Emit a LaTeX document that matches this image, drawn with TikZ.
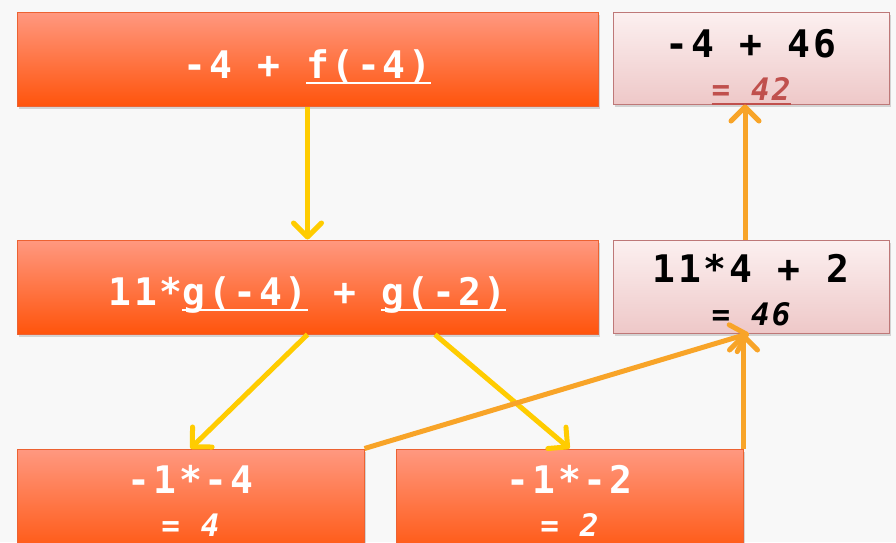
\documentclass[tikz,border=0pt]{standalone}
\usepackage{fontspec}
\newfontfamily\eqfont[LetterSpace=7]{DejaVu Sans Mono}
\usetikzlibrary{arrows.meta,shadows}

\definecolor{tileTop}{RGB}{255,152,128}
\definecolor{tileBot}{RGB}{255,84,12}
\definecolor{tileLine}{RGB}{236,98,50}
\definecolor{noteTop}{RGB}{252,240,240}
\definecolor{noteBot}{RGB}{238,200,200}
\definecolor{noteLine}{RGB}{190,120,120}
\definecolor{callArrow}{RGB}{255,204,0}
\definecolor{backArrow}{RGB}{248,164,40}
\definecolor{resultRed}{RGB}{192,80,77}
\definecolor{paper}{RGB}{248,248,248}

% underline with a thick rule, as on the slide
\newcommand{\callul}[1]{\setbox0\hbox{#1}\rlap{\rule[-6pt]{\wd0}{2.5pt}}\box0\relax}
\newcommand{\valul}[1]{\setbox0\hbox{#1}\rlap{\raisebox{-5pt}[0pt][0pt]{\rule{\wd0}{2.5pt}}}\box0\relax}
\newcommand{\valtxt}{\fontsize{31}{43}\selectfont\itshape}
\newcommand{\lift}[1]{\rule{0pt}{#1}}
\newcommand{\sink}[1]{\rule[-#1]{0pt}{#1}}

\tikzset{
  tile/.style={rectangle, draw=tileLine, line width=1pt, top color=tileTop,
    bottom color=tileBot, text=white, inner sep=0pt, align=center,
    drop shadow={opacity=0.3, shadow xshift=2pt, shadow yshift=-3pt}},
  note/.style={rectangle, draw=noteLine, line width=1pt, top color=noteTop,
    bottom color=noteBot, text=black, inner sep=0pt, align=center,
    drop shadow={opacity=0.3, shadow xshift=2pt, shadow yshift=-3pt}},
  bigtxt/.style={font=\eqfont\fontsize{38}{43}\selectfont\bfseries},
  calls/.style={draw=callArrow, line width=5pt,
    -{Straight Barb[round,length=14pt,width=28pt]}},
  returns/.style={draw=backArrow, line width=5pt,
    -{Straight Barb[round,length=14pt,width=28pt]}},
}

\begin{document}
\begin{tikzpicture}[x=1pt,y=-1pt]
\useasboundingbox (0,0) rectangle (896,542);
\fill[paper] (0,0) rectangle (896,542);
% call boxes
\node[tile,bigtxt,minimum width=581,minimum height=94] (outer) at (307.5,59)
  {\lift{44pt}-4 + \callul{f(-4)}};
\node[tile,bigtxt,minimum width=581,minimum height=94] (inner) at (307.5,287)
  {\lift{44pt}11*\callul{g(-4)} + \callul{g(-2)}};
\node[tile,bigtxt,minimum width=347,minimum height=109] (leftcall) at (190.5,503.5)
  {-1*-4\\{\valtxt = 4\sink{6pt}}};
\node[tile,bigtxt,minimum width=347,minimum height=109] (rightcall) at (569.5,503.5)
  {-1*-2\\{\valtxt = 2\sink{6pt}}};
% value boxes
\node[note,bigtxt,minimum width=276,minimum height=92] (outerval) at (751,58)
  {\lift{41pt}-4 + 46\\{\valtxt\color{resultRed}\valul{= 42}}};
\node[note,bigtxt,minimum width=276,minimum height=93] (innerval) at (751,286.5)
  {\lift{36pt}11*4 + 2\\{\valtxt = 46}};
% calls going down
\draw[calls] (outer) -- (inner);
\draw[calls] (inner.south) -- (leftcall.north);
\draw[calls] ([xshift=127.5pt]inner.south) -- (rightcall.north);
% values going up
\draw[returns] (leftcall.north east) -- ([xshift=-2pt]innerval.south);
\draw[returns] (rightcall.north east) -- (rightcall.north east |- innerval.south);
\draw[returns] ([xshift=-6pt]innerval.north) -- ([xshift=-6pt]outerval.south);
\end{tikzpicture}
\end{document}
